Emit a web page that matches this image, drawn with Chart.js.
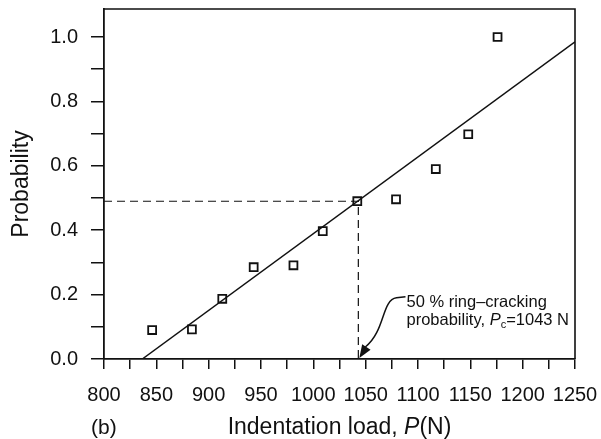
<!DOCTYPE html>
<html>
<head>
<meta charset="utf-8">
<script src="https://cdn.jsdelivr.net/npm/chart.js"></script>
<style>
  html, body { margin: 0; padding: 0; background: #fff; }
  #wrap { width: 601px; height: 439px; }
</style>
</head>
<body>
<div id="wrap"><canvas id="chart" width="601" height="439"></canvas></div>
<script>
// Datos
const loads = [846, 884, 913, 943, 981, 1009, 1042, 1079, 1117, 1148, 1176];
const probs = [0.09, 0.092, 0.187, 0.285, 0.291, 0.397, 0.49, 0.496, 0.59, 0.698, 1.0];

// recta de ajuste
const fitLoads = [836.6, 1250];
const fitProbs = [0, 0.985];

// linea de referencia al 50 %
const refLoads = [800, 1043, 1043];
const refProbs = [0.49, 0.49, 0];

const xTicks = [800, 850, 900, 950, 1000, 1050, 1100, 1150, 1200, 1250];
const yTicks = [0.0, 0.2, 0.4, 0.6, 0.8, 1.0];

const FONT = "'Liberation Sans', Arial, Helvetica, sans-serif";
const INK = '#111';

function pts(xs, ys) {
    return xs.map((x, i) => ({ x: x, y: ys[i] }));
}

// escribe trozos de texto seguidos con fuentes distintas
function runs(ctx, parts, x, y) {
    let cx = x;
    parts.forEach(p => {
        ctx.font = p.font;
        ctx.fillText(p.text, cx, y + (p.dy || 0));
        cx += ctx.measureText(p.text).width;
    });
}
function runsWidth(ctx, parts) {
    let w = 0;
    parts.forEach(p => { ctx.font = p.font; w += ctx.measureText(p.text).width; });
    return w;
}

// marco, titulo del eje x, etiqueta (b) y anotacion con flecha
const extras = {
    id: 'extras',
    afterDraw(chart) {
        const ctx = chart.ctx;
        const a = chart.chartArea;
        const x = chart.scales.x;
        const y = chart.scales.y;
        ctx.save();
        ctx.strokeStyle = INK;
        ctx.lineWidth = 1.6;
        ctx.beginPath();
        ctx.moveTo(a.left, a.top);
        ctx.lineTo(a.right, a.top);
        ctx.lineTo(a.right, a.bottom);
        ctx.stroke();

        ctx.fillStyle = INK;
        ctx.textBaseline = 'alphabetic';
        ctx.textAlign = 'left';
        ctx.font = '21px ' + FONT;
        ctx.fillText('(b)', 91, 434);

        // titulo del eje x con P en cursiva
        const title = [
            { text: 'Indentation load, ', font: '23px ' + FONT },
            { text: 'P', font: 'italic 23px ' + FONT },
            { text: '(N)', font: '23px ' + FONT }
        ];
        const tw = runsWidth(ctx, title);
        runs(ctx, title, (a.left + a.right) / 2 - tw / 2, 434);

        // texto de la anotacion
        const tx = x.getPixelForValue(1089);
        const ty1 = y.getPixelForValue(0.162);
        const ty2 = ty1 + 18.5;
        const f = '16.5px ' + FONT;
        ctx.font = f;
        ctx.fillText('50 % ring\u2013cracking', tx, ty1);
        runs(ctx, [
            { text: 'probability, ', font: f },
            { text: 'P', font: 'italic 16.5px ' + FONT },
            { text: 'c', font: '11px ' + FONT, dy: 3 },
            { text: '=1043 N', font: f }
        ], tx, ty2);

        // flecha curva hacia P = 1043 N
        const tipX = x.getPixelForValue(1043) + 1;
        const tipY = y.getPixelForValue(0) - 1;
        const sx = tx - 1, sy = ty1 - 10;
        ctx.lineWidth = 1.5;
        ctx.beginPath();
        ctx.moveTo(sx, sy);
        ctx.lineTo(sx - 9, sy + 1);
        ctx.bezierCurveTo(sx - 24, sy + 3, sx - 20, sy + 34, tipX + 6, tipY - 11);
        ctx.stroke();
        const ang = Math.atan2(14, -9);
        const L = 13, W = 5;
        const bx = tipX - L * Math.cos(ang), by = tipY - L * Math.sin(ang);
        ctx.beginPath();
        ctx.moveTo(tipX, tipY);
        ctx.lineTo(bx + W * Math.sin(ang), by - W * Math.cos(ang));
        ctx.lineTo(bx - W * Math.sin(ang), by + W * Math.cos(ang));
        ctx.closePath();
        ctx.fill();
        ctx.restore();
    }
};

new Chart(document.getElementById('chart'), {
    type: 'scatter',
    data: {
        datasets: [{
            label: 'ref',
            type: 'line',
            data: pts(refLoads, refProbs),
            borderColor: INK,
            borderWidth: 1.2,
            borderDash: [8, 5],
            pointRadius: 0,
            fill: false
        }, {
            label: 'fit',
            type: 'line',
            data: pts(fitLoads, fitProbs),
            borderColor: INK,
            borderWidth: 1.5,
            pointRadius: 0,
            fill: false
        }, {
            label: 'Probability',
            data: pts(loads, probs),
            pointStyle: 'rect',
            pointRadius: 5.6,
            pointBorderWidth: 1.8,
            pointBackgroundColor: '#fff',
            pointBorderColor: INK
        }]
    },
    options: {
        responsive: false,
        animation: false,
        layout: { padding: { top: 9, right: 26, left: 0, bottom: 0 } },
        plugins: {
            legend: { display: false },
            tooltip: { enabled: false }
        },
        scales: {
            x: {
                type: 'linear',
                min: 800,
                max: 1250,
                afterFit: (s) => {
                    s.height = 80;
                    s.paddingLeft = 0;
                    s.paddingRight = 0;
                },
                border: { color: INK, width: 1.8 },
                grid: { drawOnChartArea: false, color: INK, lineWidth: 1.5, tickLength: 10 },
                ticks: {
                    stepSize: 25,
                    autoSkip: false,
                    maxRotation: 0,
                    padding: 14,
                    color: INK,
                    font: { family: FONT, size: 20 },
                    callback: (v) => xTicks.includes(v) ? String(v) : ''
                },
                title: { display: false }
            },
            y: {
                type: 'linear',
                min: 0,
                max: 1.087,
                afterFit: (s) => {
                    s.width = 104;
                    s.paddingTop = 0;
                    s.paddingBottom = 0;
                },
                border: { color: INK, width: 1.8 },
                grid: { drawOnChartArea: false, color: INK, lineWidth: 1.5, tickLength: 13 },
                ticks: {
                    stepSize: 0.1,
                    includeBounds: false,
                    padding: 13,
                    color: INK,
                    font: { family: FONT, size: 20 },
                    callback: (v) => {
                        const n = Math.round(v * 10);
                        return yTicks.includes(n / 10) && n % 2 === 0 ? (n / 10).toFixed(1) : '';
                    }
                },
                title: {
                    display: true,
                    text: 'Probability',
                    color: INK,
                    font: { family: FONT, size: 23 },
                    padding: { top: 8, bottom: 4 }
                }
            }
        }
    },
    plugins: [extras]
});
</script>
</body>
</html>
